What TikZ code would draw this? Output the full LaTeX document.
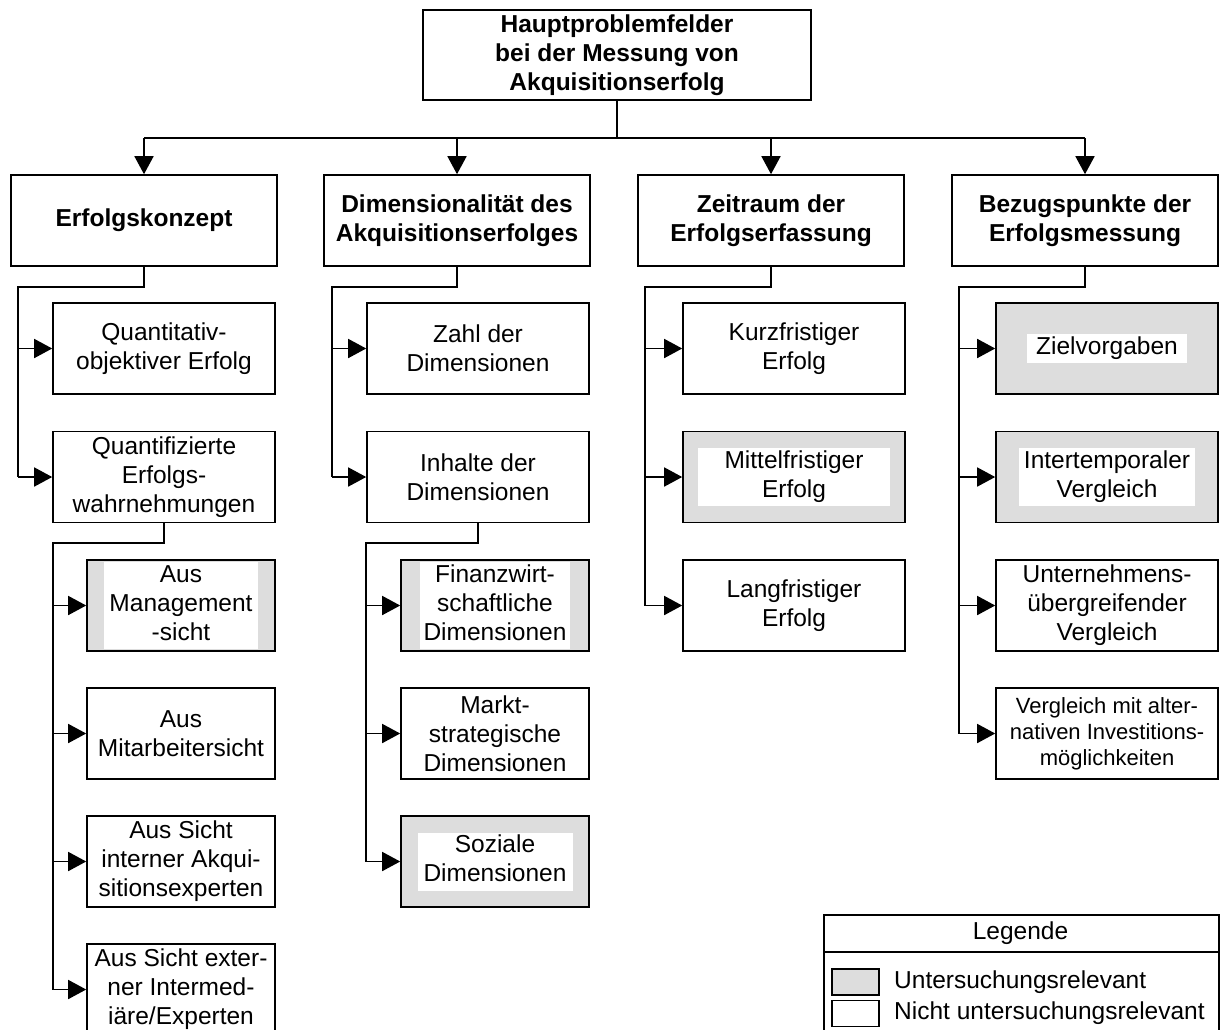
\documentclass[tikz,border=0pt]{standalone}
\usepackage{fontspec}
\setmainfont{Liberation Sans}
\usepackage{array}
\usetikzlibrary{arrows.meta}
\definecolor{relgray}{RGB}{221,221,221}
\newcommand{\wtext}[2]{{\setlength{\fboxsep}{0pt}\colorbox{white}{\begin{tabular}{@{}>{\centering\arraybackslash}p{#1pt}@{}}#2\end{tabular}}}}

\begin{document}
\begin{tikzpicture}[x=1pt,y=-1pt,
  box/.style={draw,line width=1.6pt,fill=white,align=center,minimum height=91pt,inner sep=0pt,font=\fontsize{24.5}{29}\selectfont},
  head/.style={box,minimum width=266pt,font=\bfseries\fontsize{24.5}{29}\selectfont},
  sub/.style={box,minimum width=222pt},
  subsub/.style={box,minimum width=188pt},
  rel/.style={fill=relgray},
  con/.style={line width=1.6pt},
  arr/.style={line width=1.6pt,-{Triangle[length=18pt,width=19pt]}}]

\clip (0,0) rectangle (1220,1029);

% top and first level
\node[box,minimum width=388pt,minimum height=90pt,font=\bfseries\fontsize{24.5}{29}\selectfont] (top) at (617,55) {Hauptproblemfelder\\bei der Messung von\\Akquisitionserfolg};
\node[head] (erf) at (144,220.5) {Erfolgskonzept};
\node[head] (dim) at (457,220.5) {Dimensionalität des\\Akquisitionserfolges};
\node[head] (zeit) at (771,220.5) {Zeitraum der\\Erfolgserfassung};
\node[head] (bez) at (1085,220.5) {Bezugspunkte der\\Erfolgsmessung};

% Erfolgskonzept
\node[sub] (quantobj) at (164,348.5) {Quantitativ-\\objektiver Erfolg};
\node[sub] (quantwahr) at (164,477) {Quantifizierte\\Erfolgs-\\wahrnehmungen};
\node[subsub,rel] (mgmt) at (181,605.5) {\wtext{154}{Aus\\Management\\-sicht}};
\node[subsub] (mitarb) at (181,733.5) {Aus\\Mitarbeitersicht};
\node[subsub] (intern) at (181,861.5) {Aus Sicht\\interner Akqui-\\sitionsexperten};
\node[subsub] (extern) at (181,989.5) {Aus Sicht exter-\\ner Intermed-\\iäre/Experten};

% Dimensionalitaet
\node[sub] (zahl) at (478,348.5) {Zahl der\\Dimensionen};
\node[sub] (inhalt) at (478,477) {Inhalte der\\Dimensionen};
\node[subsub,rel] (finanz) at (495,605.5) {\wtext{150}{Finanzwirt-\\schaftliche\\Dimensionen}};
\node[subsub] (markt) at (495,733.5) {Markt-\\strategische\\Dimensionen};
\node[subsub,rel] (sozial) at (495,861.5) {\wtext{155}{Soziale\\Dimensionen}};

% Zeitraum
\node[sub] (kurz) at (794,348.5) {Kurzfristiger\\Erfolg};
\node[sub,rel] (mittel) at (794,477) {\wtext{192}{Mittelfristiger\\Erfolg}};
\node[sub] (lang) at (794,605.5) {Langfristiger\\Erfolg};

% Bezugspunkte
\node[sub,rel] (ziel) at (1107,348.5) {\wtext{160}{Zielvorgaben}};
\node[sub,rel] (intertemp) at (1107,477) {\wtext{176}{Intertemporaler\\Vergleich}};
\node[sub] (untern) at (1107,605.5) {Unternehmens-\\übergreifender\\Vergleich};
\node[sub,font=\fontsize{22}{26}\selectfont] (altern) at (1107,733.5) {Vergleich mit alter-\\nativen Investitions-\\möglichkeiten};

% top connectors
\coordinate (bus) at (0,138);
\draw[con] (top.south) -- (top.south |- bus);
\draw[con] (erf.north |- bus) -- (bez.north |- bus);
\draw[arr] (erf.north |- bus) -- (erf.north);
\draw[arr] (dim.north |- bus) -- (dim.north);
\draw[arr] (zeit.north |- bus) -- (zeit.north);
\draw[arr] (bez.north |- bus) -- (bez.north);

% trunks
\coordinate (erfT) at (18,287);
\draw[con] (erf.south) |- (erfT) -- (erfT |- quantwahr.west);
\draw[arr] (erfT |- quantobj.west) -- (quantobj.west);
\draw[arr] (erfT |- quantwahr.west) -- (quantwahr.west);

\coordinate (wahrT) at (53,543);
\draw[con] (quantwahr.south) |- (wahrT) -- (wahrT |- extern.west);
\draw[arr] (wahrT |- mgmt.west) -- (mgmt.west);
\draw[arr] (wahrT |- mitarb.west) -- (mitarb.west);
\draw[arr] (wahrT |- intern.west) -- (intern.west);
\draw[arr] (wahrT |- extern.west) -- (extern.west);

\coordinate (dimT) at (332,287);
\draw[con] (dim.south) |- (dimT) -- (dimT |- inhalt.west);
\draw[arr] (dimT |- zahl.west) -- (zahl.west);
\draw[arr] (dimT |- inhalt.west) -- (inhalt.west);

\coordinate (inhT) at (366,543);
\draw[con] (inhalt.south) |- (inhT) -- (inhT |- sozial.west);
\draw[arr] (inhT |- finanz.west) -- (finanz.west);
\draw[arr] (inhT |- markt.west) -- (markt.west);
\draw[arr] (inhT |- sozial.west) -- (sozial.west);

\coordinate (zeitT) at (645,287);
\draw[con] (zeit.south) |- (zeitT) -- (zeitT |- lang.west);
\draw[arr] (zeitT |- kurz.west) -- (kurz.west);
\draw[arr] (zeitT |- mittel.west) -- (mittel.west);
\draw[arr] (zeitT |- lang.west) -- (lang.west);

\coordinate (bezT) at (959,287);
\draw[con] (bez.south) |- (bezT) -- (bezT |- altern.west);
\draw[arr] (bezT |- ziel.west) -- (ziel.west);
\draw[arr] (bezT |- intertemp.west) -- (intertemp.west);
\draw[arr] (bezT |- untern.west) -- (untern.west);
\draw[arr] (bezT |- altern.west) -- (altern.west);

% legend
\node[draw,line width=1.6pt,minimum width=395pt,minimum height=122pt,inner sep=0pt,anchor=north west] (legend) at (823,914) {};
\node[font=\fontsize{24.5}{29}\selectfont] (legtitle) at (1020.5,933) {Legende};
\coordinate (legline) at (0,952);
\draw[con] (legend.west |- legline) -- (legend.east |- legline);
\node[draw,line width=1.6pt,fill=relgray,minimum width=47pt,minimum height=26pt,inner sep=0pt] (swrel) at (855.5,982) {};
\node[draw,line width=1.6pt,fill=white,minimum width=47pt,minimum height=26pt,inner sep=0pt] (swnot) at (855.5,1013.5) {};
\node[anchor=west,inner sep=0pt,font=\fontsize{24.5}{29}\selectfont] (txtrel) at (894,982) {Untersuchungsrelevant};
\node[anchor=west,inner sep=0pt,font=\fontsize{24.5}{29}\selectfont] (txtnot) at (894,1013.5) {Nicht untersuchungsrelevant};

\end{tikzpicture}
\end{document}
